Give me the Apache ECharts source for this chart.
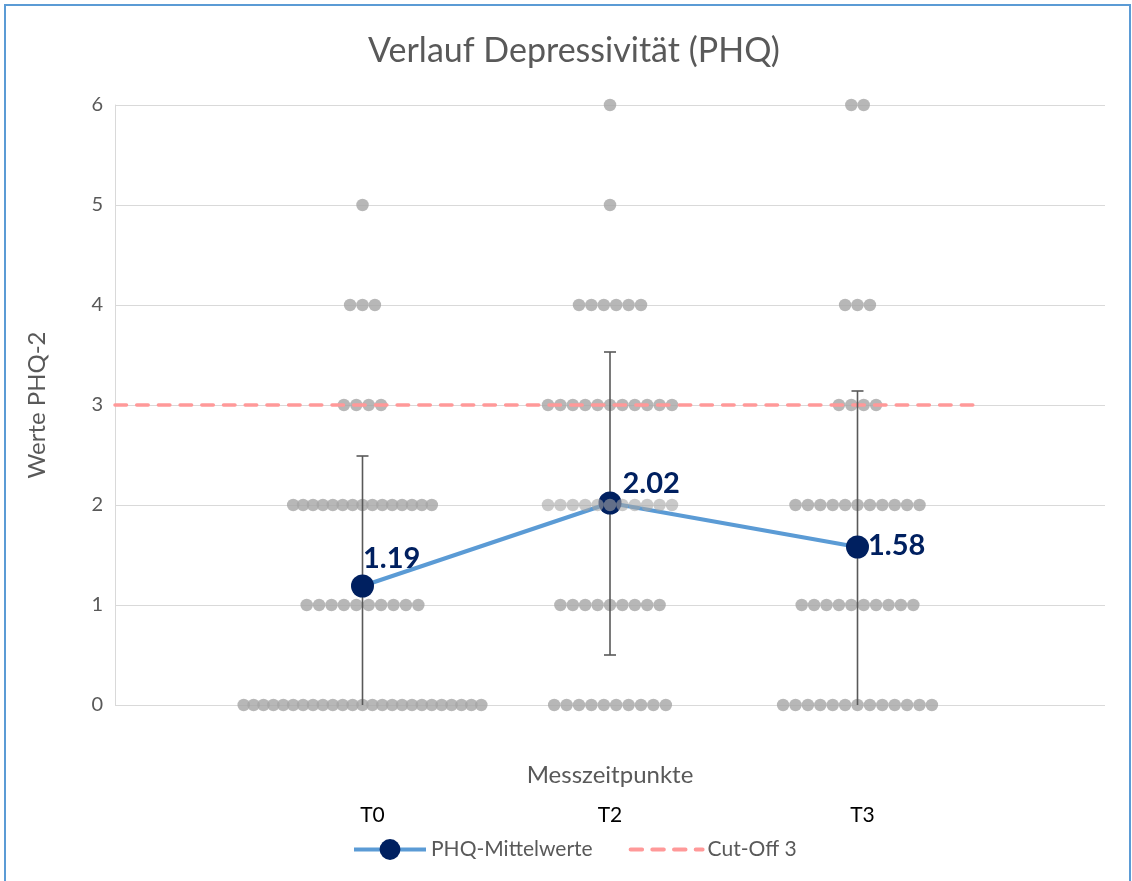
<!DOCTYPE html>
<html><head><meta charset="utf-8">
<script src="https://cdn.jsdelivr.net/npm/echarts@6/dist/echarts.min.js"></script>
<style>html,body{margin:0;padding:0;background:#fff}#c{width:1132px;height:881px}</style>
</head><body><div id="c"></div>
<script>
// ---- data ----
const timepoints = ['T0', 'T2', 'T3'];
const levels = [0, 1, 2, 3, 4, 5, 6];
const countsT0 = [25, 10, 15, 4, 3, 1, 0];
const countsT2 = [10, 9, 11, 11, 6, 1, 1];
const countsT3 = [13, 10, 11, 4, 3, 0, 2];
const means = [1.19, 2.02, 1.58];
const errUpper = [2.49, 3.53, 3.14];
const errLower = [0, 0.50, 0];
const cutoffValue = 3;
const cutoffExtent = [0, 3.5];
const yTicks = [0, 1, 2, 3, 4, 5, 6];
// cells drawn semi-transparent on top (timepoint index, level)
const overlayCells = [[1, 2]];

// ---- style helpers ----
const FONT = 'Lato';
const tickLabelPad = [20, 0, 10];   // horizontal nudge of the category labels
const labelCfg = [
  { position: 'right', offset: [-16, -27] },
  { position: 'right', offset: [-4, -19] },
  { position: 'right', offset: [-6, -1] }
];
const CUT_DASH = [11.5, 10.2];

// ---- build ----
const allCounts = [countsT0, countsT2, countsT3];
const dotsBase = [], dotsOverlay = [];
allCounts.forEach((counts, ti) => {
  counts.forEach((n, li) => {
    const spacing = n > 14 ? 9.9 : 12.4;
    const isOverlay = overlayCells.some(c => c[0] === ti && c[1] === levels[li]);
    for (let k = 0; k < n; k++) {
      const item = { value: [ti + 1, levels[li]], symbolOffset: [(k - (n - 1) / 2) * spacing, 0] };
      (isOverlay ? dotsOverlay : dotsBase).push(item);
    }
  });
});

const meanData = means.map((m, i) => ({
  value: [i + 1, m],
  label: Object.assign({ show: true, formatter: m.toFixed(2), fontSize: 29, fontWeight: 'bold', color: '#002060', fontFamily: FONT }, labelCfg[i])
}));
const errData = timepoints.map((t, i) => [i + 1, errLower[i], errUpper[i]]);
const rich = {};
timepoints.forEach((t, i) => { rich['p' + i] = { padding: [0, 0, 0, tickLabelPad[i]], fontSize: 21, color: '#000', fontFamily: FONT }; });

const chart = echarts.init(document.getElementById('c'));
chart.setOption({
  animation: false,
  backgroundColor: '#fff',
  textStyle: { fontFamily: FONT },
  title: {
    text: 'Verlauf Depressivität (PHQ)', left: 569, top: 29, textAlign: 'center',
    textStyle: { fontSize: 34, fontWeight: 'normal', color: '#595959', fontFamily: FONT }
  },
  graphic: [{
    type: 'rect', silent: true, z: 100,
    shape: { x: 5, y: 5, width: 1125, height: 900 },
    style: { fill: 'none', stroke: '#5b9bd5', lineWidth: 2 }
  }],
  legend: {
    data: [
      { name: 'PHQ-Mittelwerte', lineStyle: { width: 4 } },
      { name: 'Cut-Off 3', itemStyle: { opacity: 0 }, lineStyle: { width: 4, type: CUT_DASH, cap: 'round' } }
    ],
    left: 347, top: 834,
    itemWidth: 72, itemHeight: 26, itemGap: 36,
    textStyle: { fontSize: 21, color: '#595959', fontFamily: FONT }
  },
  grid: { left: 115, right: 27, top: 105, bottom: 176, containLabel: false },
  xAxis: {
    type: 'value', min: 0, max: 4, interval: 1,
    axisLine: { show: false }, axisTick: { show: false }, splitLine: { show: false },
    axisLabel: {
      margin: 100, fontSize: 21, color: '#000', fontFamily: FONT, rich,
      formatter: v => (v >= 1 && v <= timepoints.length) ? '{p' + (v - 1) + '|' + timepoints[v - 1] + '}' : ''
    },
    name: 'Messzeitpunkte', nameLocation: 'middle', nameGap: 58, nameMoveOverlap: false,
    nameTextStyle: { fontSize: 24, color: '#595959', fontFamily: FONT }
  },
  yAxis: {
    type: 'value', min: yTicks[0], max: yTicks[yTicks.length - 1], interval: 1,
    axisLine: { show: true, lineStyle: { color: '#d9d9d9', width: 1 } },
    axisTick: { show: false },
    splitLine: { lineStyle: { color: '#d9d9d9', width: 1 } },
    axisLabel: { fontSize: 20, color: '#595959', margin: 12, fontFamily: FONT },
    name: 'Werte PHQ-2', nameLocation: 'middle', nameGap: 66, nameMoveOverlap: false,
    nameTextStyle: { fontSize: 24, color: '#595959', fontFamily: FONT }
  },
  series: [
    {
      type: 'scatter', z: 2, symbol: 'circle', symbolSize: 12.5,
      itemStyle: { color: '#a5a5a5' }, data: dotsBase, silent: true
    },
    {
      name: 'Cut-Off 3', type: 'line', z: 3, symbol: 'none',
      data: cutoffExtent.map(x => [x, cutoffValue]),
      lineStyle: { color: '#ff9999', width: 3.5, type: CUT_DASH, cap: 'round' },
      itemStyle: { color: '#ff9999' }
    },
    {
      type: 'custom', z: 4, silent: true,
      renderItem: (params, api) => {
        const x = api.value(0), lo = api.value(1), hi = api.value(2);
        const pHi = api.coord([x, hi]), pLo = api.coord([x, lo]);
        const w = 6;
        const st = { stroke: '#595959', lineWidth: 1.6 };
        const children = [
          { type: 'line', shape: { x1: pLo[0], y1: pLo[1], x2: pHi[0], y2: pHi[1] }, style: st },
          { type: 'line', shape: { x1: pHi[0] - w, y1: pHi[1], x2: pHi[0] + w, y2: pHi[1] }, style: st }
        ];
        if (lo > 0) children.push({ type: 'line', shape: { x1: pLo[0] - w, y1: pLo[1], x2: pLo[0] + w, y2: pLo[1] }, style: st });
        return { type: 'group', children };
      },
      data: errData
    },
    {
      name: 'PHQ-Mittelwerte', type: 'line', z: 5,
      symbol: 'circle', symbolSize: 23,
      lineStyle: { color: '#5b9bd5', width: 4 },
      itemStyle: { color: '#002060' },
      data: meanData
    },
    {
      type: 'scatter', z: 6, symbol: 'circle', symbolSize: 12.5,
      itemStyle: { color: '#a5a5a5', opacity: 0.6 }, data: dotsOverlay, silent: true
    }
  ]
});
</script>
</body></html>
